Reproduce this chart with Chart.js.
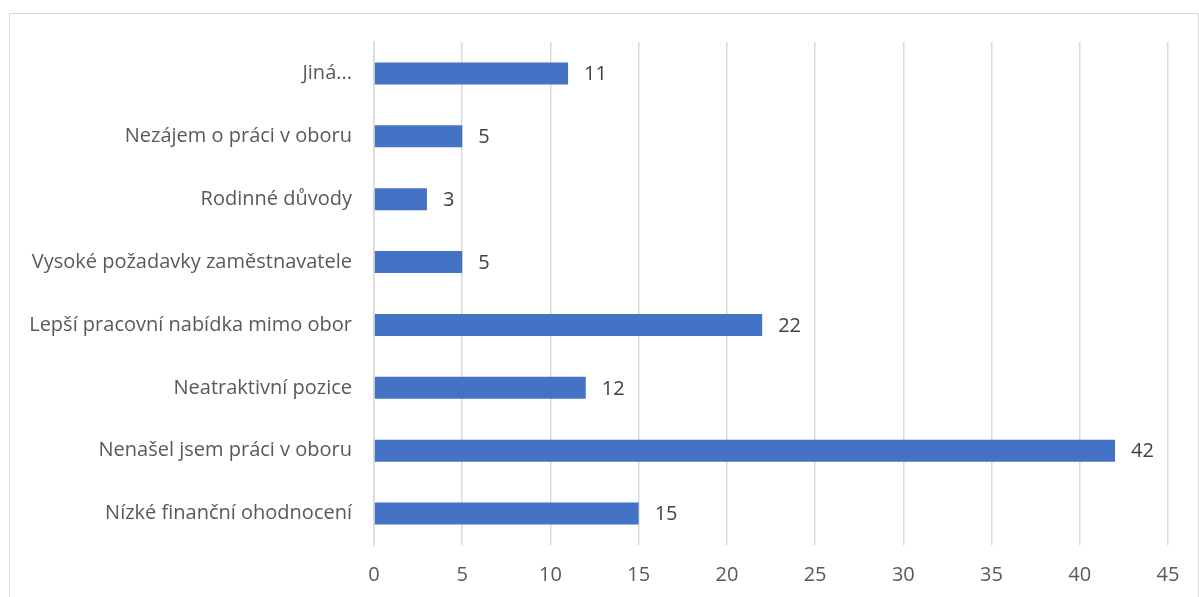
<!DOCTYPE html>
<html>
<head>
<meta charset="utf-8">
<script src="https://cdn.jsdelivr.net/npm/chart.js@4/dist/chart.umd.min.js"></script>
<style>
    body { margin: 0; background: #fff; overflow: hidden; }
    #frame {
        position: absolute; left: 9px; top: 13px;
        width: 1188px; height: 598px;
        border: 1px solid #d9d9d9;
    }
</style>
</head>
<body>
<div id="frame"><canvas id="chart" width="1188" height="598"></canvas></div>
<script>
const categories = ['Jiná...', 'Nezájem o práci v oboru', 'Rodinné důvody', 'Vysoké požadavky zaměstnavatele',
    'Lepší pracovní nabídka mimo obor', 'Neatraktivní pozice', 'Nenašel jsem práci v oboru', 'Nízké finanční ohodnocení'];
const values = [11, 5, 3, 5, 22, 12, 42, 15];
const xTicks = [0, 5, 10, 15, 20, 25, 30, 35, 40, 45];

const font = "'Open Sans', 'DejaVu Sans', sans-serif";

// labels at bar ends
const barLabels = {
    id: 'barLabels',
    afterDatasetsDraw(chart) {
        const ctx = chart.ctx;
        ctx.save();
        ctx.font = '20px ' + font;
        ctx.fillStyle = '#404040';
        ctx.textAlign = 'left';
        ctx.textBaseline = 'middle';
        chart.getDatasetMeta(0).data.forEach((bar, i) => {
            ctx.fillText(values[i], bar.x + 16, bar.y + 1);
        });
        ctx.restore();
    }
};

const chart = document.querySelector('#chart').getContext('2d');

new Chart(chart, {
    type: 'bar',
    data: {
        labels: categories,
        datasets: [{
            data: values,
            backgroundColor: '#4472c4',
            barPercentage: 0.7,
            categoryPercentage: 0.5
        }]
    },
    options: {
        indexAxis: 'y',
        responsive: false,
        animation: false,
        layout: { padding: { top: 28, right: 30, left: 0, bottom: 0 } },
        plugins: { legend: { display: false }, tooltip: { enabled: false } },
        scales: {
            x: {
                min: 0, max: 45,
                afterBuildTicks: (s) => { s.ticks = xTicks.map(v => ({ value: v })); },
                afterFit: (s) => { s.height = 598 - 28 - 503; s.paddingLeft = 0; s.paddingRight = 0; },
                grid: { color: '#d9d9d9', lineWidth: 1.5, drawTicks: false },
                border: { display: false },
                ticks: { color: '#595959', padding: 18, font: { size: 20, family: font } }
            },
            y: {
                afterFit: (s) => { s.width = 364; s.paddingTop = 0; s.paddingBottom = 0; },
                grid: { display: false, drawTicks: false },
                border: { color: '#d9d9d9', width: 1.5 },
                ticks: { color: '#595959', padding: 22, font: { size: 20, family: font } }
            }
        }
    },
    plugins: [barLabels]
});
</script>
</body>
</html>
